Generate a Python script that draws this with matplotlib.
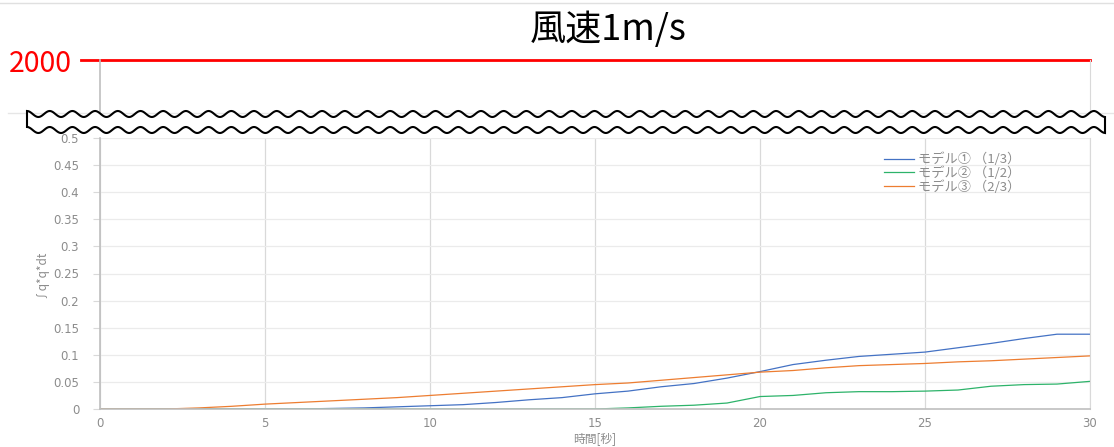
import numpy as np
import matplotlib
matplotlib.use("Agg")
import matplotlib.pyplot as plt
from matplotlib.lines import Line2D
from matplotlib.patches import Polygon

plt.rcParams['font.family'] = ['Noto Sans CJK JP', 'DejaVu Sans']

# data
t = list(range(0, 31))
model1 = [0, 0, 0, 0, 0, 0, 0, 0.001, 0.002, 0.004, 0.006, 0.008, 0.012, 0.017, 0.021,
          0.028, 0.033, 0.041, 0.047, 0.057, 0.069, 0.082, 0.090, 0.097, 0.101, 0.105,
          0.113, 0.121, 0.130, 0.138, 0.138]
model2 = [0] * 16 + [0.002, 0.005, 0.007, 0.011, 0.023, 0.025, 0.030, 0.032, 0.032, 0.033,
                     0.035, 0.042, 0.045, 0.046, 0.051]
model3 = [0, 0, 0, 0.002, 0.005, 0.009, 0.012, 0.015, 0.018, 0.021, 0.025, 0.029, 0.033,
          0.037, 0.041, 0.045, 0.048, 0.053, 0.058, 0.063, 0.068, 0.071, 0.076, 0.080,
          0.082, 0.084, 0.087, 0.089, 0.092, 0.095, 0.098]
labels = ['モデル① （1/3）', 'モデル② （1/2）', 'モデル③ （2/3）']
colors = ['#4472C4', '#2DB36A', '#ED7D31']
upper_value = 2000
title = '風速1m/s'

W, H = 1114, 447
fig = plt.figure(figsize=(W / 100, H / 100), dpi=100)

def fx(px):
    return px / W

def fy(py):
    return (H - py) / H

tick_col = '#8c8c8c'

# main (lower) axes
ax = fig.add_axes([fx(100), fy(409), fx(1090) - fx(100), fy(138) - fy(409)])
for vals, lab, c in zip([model1, model2, model3], labels, colors):
    ax.plot(t, vals, color=c, lw=0.9, label=lab)
ax.set_xlim(0, 30)
ax.set_ylim(0, 0.5)
ax.set_xticks(np.arange(0, 31, 5))
ax.set_yticks(np.arange(0, 0.51, 0.05))
ax.set_yticklabels(['0', '0.05', '0.1', '0.15', '0.2', '0.25', '0.3', '0.35', '0.4', '0.45', '0.5'])
ax.tick_params(axis='y', length=5, color='#d9d9d9', pad=10, labelsize=8.5, labelcolor=tick_col,
               labelfontfamily='DejaVu Sans')
ax.tick_params(axis='x', length=0, pad=6, labelsize=8.5, labelcolor=tick_col,
               labelfontfamily='DejaVu Sans')
ax.grid(axis='y', color='#ebebeb', lw=0.9)
ax.grid(axis='x', color='#d9d9d9', lw=0.9)
ax.set_axisbelow(True)
ax.spines['top'].set_visible(False)
ax.spines['right'].set_color('#d9d9d9')
ax.spines['left'].set_color('#bfbfbf')
ax.spines['bottom'].set_color('#bfbfbf')
ax.spines['left'].set_linewidth(1.2)
ax.spines['bottom'].set_linewidth(1.2)
ax.set_xlabel('時間[秒]', fontsize=8.5, color=tick_col, labelpad=1)
ax.set_ylabel('∫q*q*dt', fontsize=8.5, color=tick_col)
ax.yaxis.set_label_coords(-0.054, 0.5)
ax.legend(loc='upper left', bbox_to_anchor=(0.785, 0.97), frameon=False, fontsize=9.5,
          labelcolor=tick_col, handlelength=2.3, handletextpad=0.3, labelspacing=0.0,
          borderpad=0)

# upper axes with the 2000 line
ax2 = fig.add_axes([fx(100), fy(113), fx(1090) - fx(100), fy(60) - fy(113)])
ax2.set_xlim(0, 30)
ax2.set_ylim(1000, upper_value)
ax2.set_xticks([])
ax2.set_yticks([upper_value])
ax2.set_yticklabels([str(upper_value)])
ax2.tick_params(axis='y', length=0, pad=20, labelsize=20.5, labelcolor='#ff0000')
ax2.spines['top'].set_visible(False)
ax2.spines['bottom'].set_visible(False)
ax2.spines['left'].set_color('#bfbfbf')
ax2.spines['left'].set_linewidth(1.2)
ax2.spines['right'].set_color('#d9d9d9')
ax2.patch.set_alpha(0)
ax2.axhline(upper_value, xmin=-0.019, xmax=1.0, color='#ff0000', lw=2, clip_on=False)

fig.text(fx(608), fy(30), title, fontsize=26, ha='center', va='center', color='black')

# decorative lines and axis break
fig.add_artist(Line2D([0, 1], [fy(2.5), fy(2.5)], color='#e0e0e0', lw=1))
fig.add_artist(Line2D([fx(8), 1], [fy(113), fy(113)], color='#e6e6e6', lw=1, zorder=5))

xs = np.linspace(27, 1105, 1200)
period = 22.7
upper = 114 - 3 * np.cos(2 * np.pi * (xs - 27) / period)
lower = 130 - 3 * np.cos(2 * np.pi * (xs - 27) / period)
pts = np.vstack([np.column_stack([xs, upper]), np.column_stack([xs[::-1], lower[::-1]])])
pts_fig = np.column_stack([fx(pts[:, 0]), fy(pts[:, 1])])
fig.add_artist(Polygon(pts_fig, closed=True, facecolor='white', edgecolor='black',
                       lw=1.5, transform=fig.transFigure, zorder=10))

fig.savefig('out.png', dpi=100)
